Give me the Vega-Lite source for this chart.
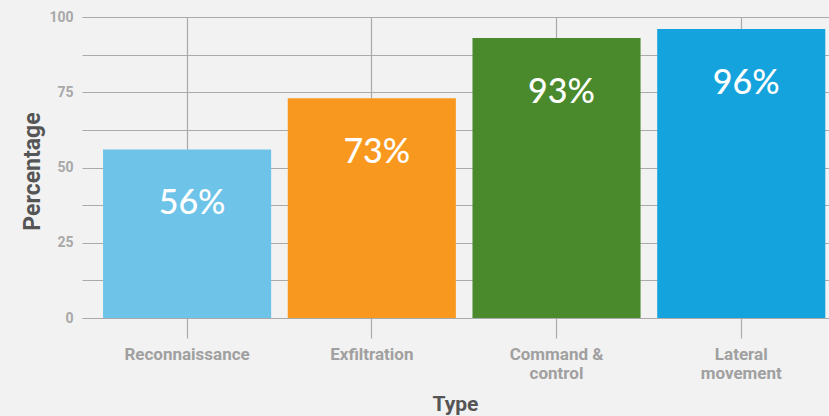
{
  "$schema": "https://vega.github.io/schema/vega-lite/v6.json",
  "width": 747,
  "height": 301,
  "autosize": {"type": "none"},
  "padding": {"left": 82, "top": 17, "right": 0, "bottom": 98},
  "background": "#f2f2f2",
  "data": {"values": [
    {"type": "Reconnaissance", "pct": 56, "label": "56%"},
    {"type": "Exfiltration", "pct": 73, "label": "73%"},
    {"type": "Command & control", "pct": 93, "label": "93%"},
    {"type": "Lateral movement", "pct": 96, "label": "96%"}
  ]},
  "config": {"view": {"stroke": null}},
  "encoding": {
    "x": {
      "field": "type", "type": "nominal", "sort": null,
      "scale": {"paddingInner": 0.09, "paddingOuter": 0.067, "align": 0.85},
      "axis": {
        "title": "Type", "titleFont": "Roboto", "titleFontSize": 21, "titleFontWeight": "bold", "titleColor": "#555555",
        "titleX": 373, "titleY": 86, "titleBaseline": "middle", "titleAlign": "center",
        "labelAngle": 0, "labelFont": "Roboto", "labelFontSize": 17, "labelFontWeight": "bold", "labelColor": "#a0a0a0",
        "labelPadding": 8, "labelLineHeight": 19, "labelBaseline": "top",
        "labelExpr": "datum.label == 'Command & control' ? ['Command &', 'control'] : datum.label == 'Lateral movement' ? ['Lateral', 'movement'] : datum.label",
        "tickSize": 20, "tickColor": "#aaaaaa", "tickWidth": 1.2, "bandPosition": 0.5,
        "grid": true, "gridColor": "#aaaaaa", "gridWidth": 1.2,
        "domain": false
      }
    },
    "y": {
      "field": "pct", "type": "quantitative",
      "scale": {"domain": [0, 100], "nice": false},
      "axis": {
        "title": "Percentage", "titleFont": "Roboto", "titleFontSize": 23, "titleFontWeight": "bold", "titleColor": "#555555",
        "titleX": -50, "titleY": 154, "titleAngle": -90, "titleBaseline": "middle", "titleAlign": "center",
        "values": [0, 12.5, 25, 37.5, 50, 62.5, 75, 87.5, 100],
        "labelExpr": "datum.value % 25 == 0 ? datum.label : ''",
        "labelFont": "Roboto", "labelFontSize": 14, "labelFontWeight": "bold", "labelColor": "#a8a8a8", "labelPadding": 9,
        "ticks": false, "domain": false,
        "grid": true, "gridColor": "#aaaaaa", "gridWidth": 1.2
      }
    }
  },
  "layer": [
    {
      "mark": {"type": "bar"},
      "encoding": {
        "color": {
          "field": "type", "type": "nominal", "sort": null, "legend": null,
          "scale": {"range": ["#6dc4e8", "#f9981f", "#4a8a2c", "#14a3dc"]}
        }
      }
    },
    {
      "mark": {"type": "text", "color": "white", "font": "Lato", "fontSize": 34, "fontWeight": 500, "baseline": "middle", "dy": 55, "dx": 5},
      "encoding": {
        "text": {"field": "label"}
      }
    }
  ]
}
